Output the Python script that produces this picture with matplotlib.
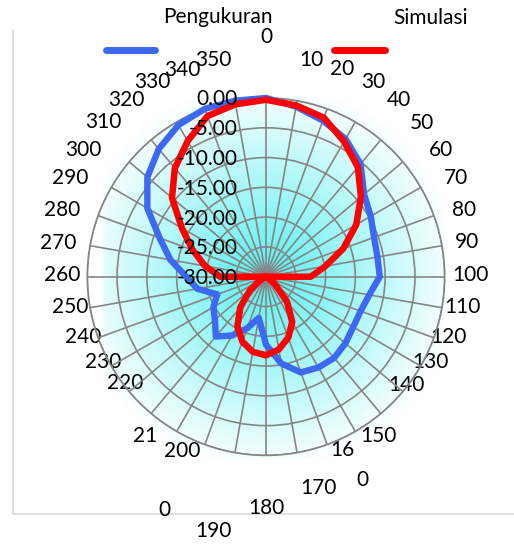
import numpy as np
import matplotlib
matplotlib.use("Agg")
import matplotlib.pyplot as plt
from matplotlib.transforms import offset_copy

W, H = 514, 544

# --- data -----------------------------------------------------------------
sudut = list(range(0, 360, 10))
label_sudut = [str(a) for a in sudut]

# pola radiasi (dB), 0..350 derajat
pengukuran = [0.0, -1.0, -2.1, -3.3, -5.3, -8.5, -9.7, -10.7, -11.0, -10.9,
              -12.4, -13.1, -13.1, -12.6, -12.2, -12.4, -12.9, -15.2, -18.6, -23.0,
              -20.8, -18.6, -16.9, -18.8, -19.8, -21.3, -18.3, -16.6, -13.7, -11.0,
              -7.0, -4.0, -2.0, -0.6, 0.0, 0.0]
simulasi = [-0.3, -0.8, -1.6, -3.8, -6.0, -9.2, -12.5, -16.2, -19.9, -22.5,
            -30.0, -30.0, -29.5, -28.0, -24.5, -21.2, -19.1, -17.6, -16.8, -17.2,
            -18.4, -20.4, -23.3, -26.5, -29.0, -30.0, -30.0, -22.3, -19.6, -16.9,
            -13.7, -9.4, -6.2, -3.7, -1.3, -0.6]

r_ticks = [0, -5, -10, -15, -20, -25, -30]
r_tick_labels = ["%.2f" % v for v in r_ticks]

# --- layout ---------------------------------------------------------------
# where the category labels ended up in the original chart (pixel centres);
# two of them got wrapped into two pieces
label_pos = [
    [(266, 37)], [(311, 60)], [(342, 69)], [(373, 82)], [(399, 100)],
    [(422, 123)], [(441, 150)], [(456, 178)], [(464, 210)], [(467, 242)],
    [(470, 275)], [(462, 307)], [(448, 337)], [(430, 362)], [(406, 385)],
    [(378, 436)], [(342, 450), (362, 480)], [(318, 488)], [(266, 508)], [(213, 531)],
    [(182, 451)], [(145, 436), (164, 510)], [(125, 383)], [(103, 362)], [(83, 337)],
    [(70, 307)], [(62, 275)], [(58, 243)], [(62, 210)], [(70, 178)],
    [(83, 150)], [(103, 122)], [(126, 100)], [(152, 82)], [(182, 70)],
    [(213, 60)],
]
cx, cy, R = 266, 276.7, 178.7
BLUE = "#3d68f2"
RED = "#ff0000"
GRID = "#858585"
FONT = "Lato"
FS = 15

fig = plt.figure(figsize=(W / 100, H / 100), dpi=100)

# background: radial cyan glow + chart border
bg = fig.add_axes([0, 0, 1, 1])
bg.set_xlim(0, W)
bg.set_ylim(H, 0)
bg.axis("off")
yy, xx = np.mgrid[97:458, 103:445] + 0.5
t = np.clip(np.hypot(xx - cx, yy - cy) / (1.08 * R), 0, 1) ** 0.95
centre = np.array([0.33, 0.94, 0.94])
img = centre[None, None, :] * (1 - t[..., None]) + t[..., None]
bg.imshow(img, extent=(103, 445, 458, 97), interpolation="bilinear", zorder=0)
bg.plot([13, 13, W], [30, 514, 514], color="#d9d9d9", lw=1.2, zorder=1)

# legend (Excel put it in an odd arrangement)
bg.plot([106, 155], [50, 50], color=BLUE, lw=5, solid_capstyle="round")
bg.plot([334, 385], [50, 50], color=RED, lw=5, solid_capstyle="round")
bg.text(218, 23, "Pengukuran", ha="center", va="baseline", fontsize=FS, family=FONT)
bg.text(431, 24, "Simulasi", ha="center", va="baseline", fontsize=FS, family=FONT)

# polar chart
ax = fig.add_axes([(cx - R) / W, 1 - (cy + R) / H, 2 * R / W, 2 * R / H],
                  projection="polar")
ax.set_facecolor("none")
ax.set_theta_zero_location("N")
ax.set_theta_direction(-1)
ax.set_ylim(-30, 0)
ax.set_yticks(r_ticks)
ax.set_yticklabels([])
ax.set_xticks(np.deg2rad(sudut))
ax.set_xticklabels([])
ax.tick_params(length=0)
ax.grid(True, color=GRID, lw=1.2)
ax.spines["polar"].set_color(GRID)
ax.spines["polar"].set_linewidth(1.2)

th = np.deg2rad(sudut + [360])
ax.plot(th, pengukuran + pengukuran[:1], color=BLUE, lw=4.6,
        solid_joinstyle="round", solid_capstyle="round", clip_on=False, zorder=3)
ax.plot(th, simulasi + simulasi[:1], color=RED, lw=4.7,
        solid_joinstyle="round", solid_capstyle="round", clip_on=False, zorder=4)

# radial value labels, left of the 0 spoke
tr = offset_copy(ax.transData, fig=fig, x=-28, y=-1.5, units="dots")
for v, s in zip(r_ticks, r_tick_labels):
    ax.text(0, v, s, transform=tr, ha="right", va="center", fontsize=FS,
            family=FONT, zorder=5, clip_on=False)

# category labels
for s, pos in zip(label_sudut, label_pos):
    pieces = [s] if len(pos) == 1 else [s[:2], s[2:]]
    for p, (x, y) in zip(pieces, pos):
        bg.text(x, y, p, ha="center", va="center", fontsize=FS, family=FONT)

fig.savefig("out.png", dpi=100)
